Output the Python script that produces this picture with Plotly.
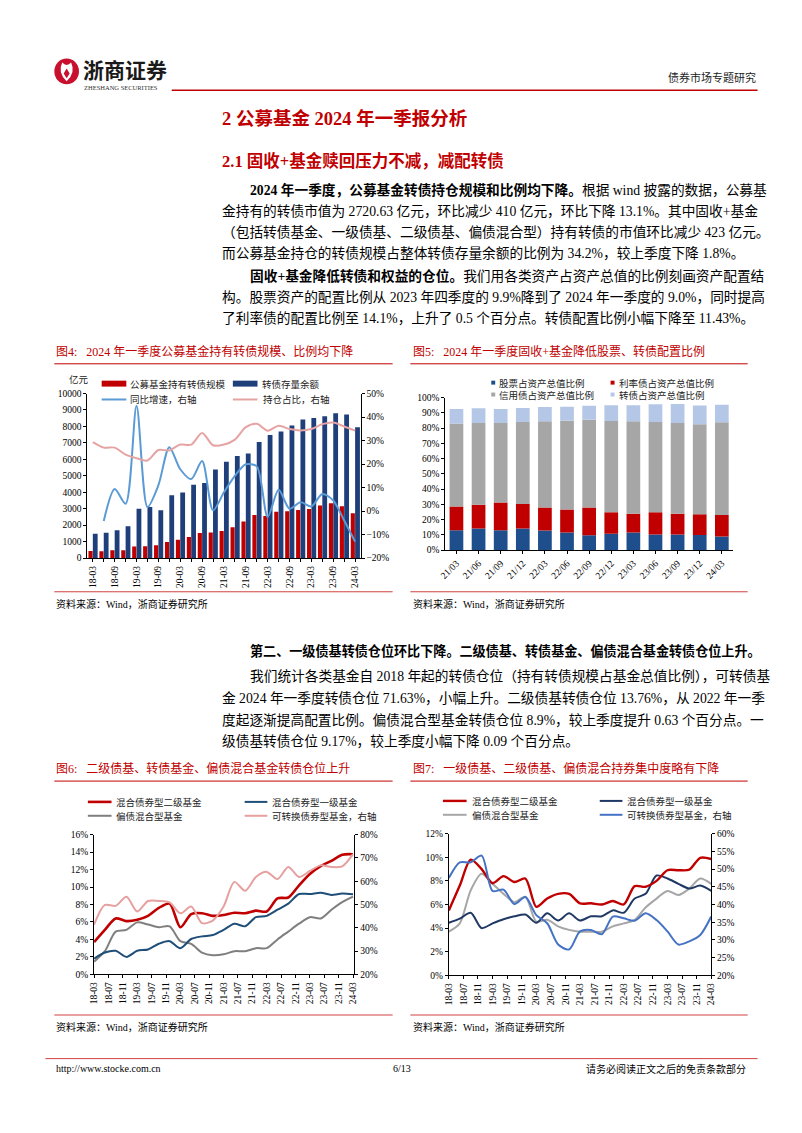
import plotly.graph_objects as go

W, H = 802, 1133
def X(p): return p / W
def Y(p): return 1 - p / H

SERIF = "Liberation Serif, Noto Sans CJK SC"
CJK = "Noto Sans CJK SC"
RED = "#C00000"

# ---------------- Fig4 data ----------------
quarters = ["18-03","18-06","18-09","18-12","19-03","19-06","19-09","19-12","20-03","20-06","20-09","20-12",
            "21-03","21-06","21-09","21-12","22-03","22-06","22-09","22-12","23-03","23-06","23-09","23-12","24-03"]
fund_cb_hold = [430,420,470,470,700,720,780,980,1120,1280,1530,1560,1650,1870,2230,2620,2560,2820,2850,2920,2980,3200,3330,3150,2720]
cb_outstanding = [1480,1540,1690,1930,3000,3100,2900,3820,3980,4450,4560,5380,5850,6200,6350,7050,7480,7700,8050,8420,8520,8620,8800,8720,7950]
yoy_growth = [None,-4.2,9.4,3.1,44.8,1.7,11.0,27.2,17.8,13.6,21.3,0.3,8.0,15.0,19.9,19.0,-2.5,9.1,1.0,3.8,2.0,7.3,4.5,-4.0,-13.0]
hold_share = [29.3,27.0,27.0,24.0,22.5,21.5,26.0,25.8,28.3,28.3,33.2,28.0,28.3,30.4,35.7,37.1,34.2,36.3,34.9,34.3,34.9,37.0,37.7,36.0,34.2]

# ---------------- Fig5 data ----------------
periods5 = ["21/03","21/06","21/09","21/12","22/03","22/06","22/09","22/12","23/03","23/06","23/09","23/12","24/03"]
stock_pct = [13.0,14.1,13.0,14.1,12.8,11.5,9.8,10.8,11.5,10.3,10.2,9.9,9.0]
rate_pct = [15.6,15.6,18.2,16.2,15.1,15.1,18.1,14.1,12.3,14.6,13.6,13.6,14.1]
credit_pct = [54.3,53.6,52.1,53.7,56.5,58.2,57.6,59.7,60.6,59.1,59.5,59.0,60.7]
cb_pct = [9.5,9.6,9.1,9.1,9.3,9.1,9.1,10.4,10.6,11.5,12.4,12.3,11.4]

# ---------------- Fig6 data ----------------
month_ticks = ["18-03","18-07","18-11","19-03","19-07","19-11","20-03","20-07","20-11","21-03",
               "21-07","21-11","22-03","22-07","22-11","23-03","23-07","23-11","24-03"]
second_tier6 = [3.7,5.1,6.4,6.1,6.25,6.7,7.6,8.1,5.4,6.9,7.0,6.7,6.8,7.05,7.0,7.3,7.2,8.7,8.8,10.2,11.5,12.4,13.0,13.7,13.76]
first_tier6 = [1.8,2.5,2.7,2.0,2.7,2.85,3.5,3.8,3.0,4.05,4.35,4.5,5.1,5.8,5.5,6.55,6.7,7.4,8.1,9.2,9.2,9.35,9.1,9.26,9.17]
hybrid6 = [1.45,2.65,4.9,5.1,5.95,5.7,5.4,5.5,3.8,3.5,2.5,2.2,2.3,2.65,2.65,3.0,3.0,4.0,4.9,5.8,6.55,6.4,7.4,8.27,8.9]
cbfund6 = [41.3,49.8,49.4,53.3,47.0,51.5,51.5,50.9,46.2,49.1,42.0,43.1,49.1,59.7,55.9,61.8,64.0,60.9,66.1,61.8,64.4,66.8,66.1,66.4,71.63]

# ---------------- Fig7 data ----------------
second_tier7 = [5.5,7.6,9.8,9.0,7.8,8.4,7.9,8.2,5.8,6.5,6.9,6.9,6.1,6.1,6.0,6.3,6.0,7.55,7.5,8.0,8.9,8.9,8.95,9.95,9.85]
first_tier7 = [4.45,4.8,5.3,4.0,4.4,4.75,5.0,5.15,4.45,5.25,4.65,5.25,4.65,5.0,5.0,5.5,5.3,6.5,6.9,8.45,8.2,7.75,7.35,7.6,7.15]
hybrid7 = [3.7,4.4,7.2,8.6,7.75,6.9,6.2,6.65,4.55,4.7,4.15,3.85,3.7,3.7,3.7,4.15,4.4,4.7,5.75,6.5,7.15,6.8,7.35,8.2,7.75]
cbfund7 = [47.5,51.9,51.9,53.8,43.8,44.2,40.1,42.1,37.0,34.7,28.7,27.3,32.4,32.8,31.6,36.6,36.1,35.4,37.5,35.6,32.4,28.7,29.6,31.4,36.6]

qidx = list(range(len(quarters)))
qmonth = [3 * i for i in qidx]

fig = go.Figure()

# Fig4 traces
fig.add_trace(go.Bar(x=qidx, y=fund_cb_hold, xaxis="x", yaxis="y", marker_color=RED,
                     width=0.38, offset=-0.4, marker_line_width=0, name="公募基金持有转债规模"))
fig.add_trace(go.Bar(x=qidx, y=cb_outstanding, xaxis="x", yaxis="y", marker_color="#1F3F7A",
                     width=0.44, offset=0.0, marker_line_width=0, name="转债存量余额"))
fig.add_trace(go.Scatter(x=qidx, y=yoy_growth, xaxis="x", yaxis="y2", mode="lines",
                         line=dict(color="#5B9BD5", width=2, shape="spline", smoothing=0.8)))
fig.add_trace(go.Scatter(x=qidx, y=hold_share, xaxis="x", yaxis="y2", mode="lines",
                         line=dict(color="#E6A3A3", width=2, shape="spline", smoothing=0.8)))

# Fig5 traces (stacked via base)
i5 = list(range(len(periods5)))
base = [0.0] * len(periods5)
for vals, col in [(stock_pct, "#1F4E8C"), (rate_pct, "#C00000"), (credit_pct, "#A6A6A6"), (cb_pct, "#B4C7E7")]:
    fig.add_trace(go.Bar(x=i5, y=vals, base=list(base), xaxis="x2", yaxis="y3", marker_color=col,
                         width=0.62, marker_line_width=0))
    base = [b + v for b, v in zip(base, vals)]

# Fig6 traces
for vals, col, wd, ax in [(hybrid6, "#7F7F7F", 2, "y4"), (first_tier6, "#1F4E79", 2, "y4"),
                          (cbfund6, "#E6A0A0", 2, "y5"), (second_tier6, "#C00000", 2.6, "y4")]:
    fig.add_trace(go.Scatter(x=qmonth, y=vals, xaxis="x3", yaxis=ax, mode="lines",
                             line=dict(color=col, width=wd, shape="spline", smoothing=0.8)))

# Fig7 traces
for vals, col, wd, ax in [(hybrid7, "#A6A6A6", 2, "y6"), (cbfund7, "#4472C4", 2, "y7"),
                          (first_tier7, "#1F3864", 2, "y6"), (second_tier7, "#C00000", 2.4, "y6")]:
    fig.add_trace(go.Scatter(x=qmonth, y=vals, xaxis="x4", yaxis=ax, mode="lines",
                             line=dict(color=col, width=wd, shape="spline", smoothing=0.8)))

tickfont = dict(family="Liberation Serif", size=9.5, color="#000")
axbase = dict(showgrid=False, zeroline=False, showline=True, linecolor="#000", linewidth=1,
              ticks="outside", ticklen=3, tickcolor="#000", tickfont=tickfont)

layout = dict(
    width=W, height=H, margin=dict(l=0, r=0, t=0, b=0),
    paper_bgcolor="white", plot_bgcolor="white", showlegend=False, barmode="overlay",
    xaxis=dict(axbase, domain=[X(82.5), X(359.5)], anchor="y", range=[-0.5, 24.5],
               tickvals=qidx, ticktext=[q if i % 2 == 0 else "" for i, q in enumerate(quarters)],
               tickangle=-90),
    yaxis=dict(axbase, domain=[Y(558), Y(392)], anchor="x", range=[0, 10000], dtick=1000,
               tickformat="d"),
    yaxis2=dict(axbase, overlaying="y", side="right", anchor="x", range=[-20, 50], dtick=10,
                ticksuffix="%"),
    xaxis2=dict(axbase, domain=[X(445.5), X(737)], anchor="y3", range=[-0.5, 12.5],
                tickvals=i5, ticktext=periods5, tickangle=-45),
    yaxis3=dict(axbase, domain=[Y(550), Y(396)], anchor="x2", range=[0, 100], dtick=10,
                ticksuffix="%"),
    xaxis3=dict(axbase, domain=[X(89.3), X(353.3)], anchor="y4", range=[0, 72.4],
                tickvals=list(range(0, 73, 4)), ticktext=month_ticks, tickangle=-90),
    yaxis4=dict(axbase, domain=[Y(978), Y(837)], anchor="x3", range=[0, 16], dtick=2,
                ticksuffix="%"),
    yaxis5=dict(axbase, overlaying="y4", side="right", anchor="x3", range=[20, 80], dtick=10,
                ticksuffix="%"),
    xaxis4=dict(axbase, domain=[X(449), X(715)], anchor="y6", range=[0, 72],
                tickvals=list(range(0, 73, 4)), ticktext=month_ticks, tickangle=-90),
    yaxis6=dict(axbase, domain=[Y(979), Y(836)], anchor="x4", range=[0, 12], dtick=2,
                ticksuffix="%"),
    yaxis7=dict(axbase, overlaying="y6", side="right", anchor="x4", range=[20, 60], dtick=5,
                ticksuffix="%"),
)
fig.update_layout(**layout)

ann = []
shapes = []

def txt(x, y, s, size=13.7, color="#000", family=SERIF, anchor="left"):
    ann.append(dict(x=X(x), y=Y(y), xref="paper", yref="paper", text=s, showarrow=False,
                    xanchor=anchor, yanchor="middle", font=dict(size=size, color=color, family=family)))

def hline(x0, x1, y, color=RED, width=1):
    shapes.append(dict(type="line", xref="paper", yref="paper", x0=X(x0), x1=X(x1), y0=Y(y), y1=Y(y),
                       line=dict(color=color, width=width)))

def rect(x0, x1, y0, y1, color):
    shapes.append(dict(type="rect", xref="paper", yref="paper", x0=X(x0), x1=X(x1), y0=Y(y1), y1=Y(y0),
                       fillcolor=color, line=dict(width=0)))

# ---- header ----
shapes.append(dict(type="circle", xref="paper", yref="paper", x0=X(49), x1=X(74), y0=Y(80), y1=Y(54),
                   fillcolor="#C8102E", line=dict(width=0)))
shapes.append(dict(type="path", xref="paper", yref="paper",
                   path=f"M {X(57)},{Y(58)} Q {X(52)},{Y(68)} {X(61.5)},{Y(77)} Q {X(71)},{Y(68)} {X(66)},{Y(58)} Q {X(61.5)},{Y(63)} {X(57)},{Y(58)} Z",
                   fillcolor="white", line=dict(width=0)))
shapes.append(dict(type="path", xref="paper", yref="paper",
                   path=f"M {X(61.5)},{Y(64)} L {X(64.5)},{Y(69)} L {X(61.5)},{Y(74)} L {X(58.5)},{Y(69)} Z",
                   fillcolor="#C8102E", line=dict(width=0)))
txt(76, 65, "<b>浙商证券</b>", size=21, color="#1a1a1a", family=CJK)
txt(77, 83, "ZHESHANG SECURITIES", size=6.5, color="#333", family="Liberation Serif")
hline(168, 762, 86, color="#C00000", width=1.5)
txt(762, 73, "债券市场专题研究", size=11, color="#222", family=CJK, anchor="right")

# ---- section titles ----
txt(217, 115, "<b>2 公募基金 2024 年一季报分析</b>", size=18.5, color=RED)
txt(217, 157, "<b>2.1 固收+基金赎回压力不减，减配转债</b>", size=16.5, color=RED)

# ---- paragraph 1 ----
txt(245, 187, "<b>2024 年一季度，公募基金转债持仓规模和比例均下降。</b>根据 wind 披露的数据，公募基")
txt(217, 208, "金持有的转债市值为 2720.63 亿元，环比减少 410 亿元，环比下降 13.1%。其中固收+基金")
txt(217, 229, "（包括转债基金、一级债基、二级债基、偏债混合型）持有转债的市值环比减少 423 亿元。")
txt(217, 250, "而公募基金持仓的转债规模占整体转债存量余额的比例为 34.2%，较上季度下降 1.8%。")
# ---- paragraph 2 ----
txt(245, 273, "<b>固收+基金降低转债和权益的仓位。</b>我们用各类资产占资产总值的比例刻画资产配置结")
txt(217, 295, "构。股票资产的配置比例从 2023 年四季度的 9.9%降到了 2024 年一季度的 9.0%，同时提高")
txt(217, 316, "了利率债的配置比例至 14.1%，上升了 0.5 个百分点。转债配置比例小幅下降至 11.43%。")

# ---- fig4/5 captions ----
txt(49, 350, "图4:   2024 年一季度公募基金持有转债规模、比例均下降", size=12, color=RED)
txt(411, 350, "图5:   2024 年一季度固收+基金降低股票、转债配置比例", size=12, color=RED)
hline(49, 392, 362)
hline(410, 752, 362)
hline(49, 392, 592, color="#D04040")
hline(410, 752, 592, color="#D04040")
txt(49, 604, "资料来源：Wind，浙商证券研究所", size=10, color="#000")
txt(411, 604, "资料来源：Wind，浙商证券研究所", size=10, color="#000")

# fig4 legend
LG = dict(size=9.5, color="#222", family=CJK)
txt(74, 377, "亿元", anchor="center", **LG)
rect(97, 122, 379, 385, RED)
txt(124, 382, "公募基金持有转债规模", **LG)
rect(230, 255, 379, 385, "#1F3F7A")
txt(258, 382, "转债存量余额", **LG)
hline(97, 122, 398, color="#5B9BD5", width=2)
txt(124, 398, "同比增速，右轴", **LG)
hline(230, 255, 398, color="#E6A3A3", width=2)
txt(259, 398, "持仓占比，右轴", **LG)

# fig5 legend
for (mx, my, col, lab) in [(494, 381, "#1F4E8C", "股票占资产总值比例"), (615, 381, "#C00000", "利率债占资产总值比例"),
                           (494, 393, "#A6A6A6", "信用债占资产总值比例"), (615, 393, "#B4C7E7", "转债占资产总值比例")]:
    rect(mx - 2, mx + 2, my - 2, my + 2, col)
    txt(mx + 4, my, lab, **LG)

# ---- paragraph 3 ----
txt(245, 652, "<b>第二、一级债基转债仓位环比下降。二级债基、转债基金、偏债混合基金转债仓位上升。</b>", size=13.1)
txt(245, 677, "我们统计各类基金自 2018 年起的转债仓位（持有转债规模占基金总值比例），可转债基")
txt(217, 699, "金 2024 年一季度转债仓位 71.63%，小幅上升。二级债基转债仓位 13.76%，从 2022 年一季")
txt(217, 721, "度起逐渐提高配置比例。偏债混合型基金转债仓位 8.9%，较上季度提升 0.63 个百分点。一")
txt(217, 743, "级债基转债仓位 9.17%，较上季度小幅下降 0.09 个百分点。")

# ---- fig6/7 captions ----
txt(49, 770, "图6:   二级债基、转债基金、偏债混合基金转债仓位上升", size=12, color=RED)
txt(411, 770, "图7:   一级债基、二级债基、偏债混合持券集中度略有下降", size=12, color=RED)
hline(49, 392, 783)
hline(410, 752, 783)
hline(49, 392, 1019, color="#D04040")
hline(410, 752, 1019, color="#D04040")
txt(49, 1031, "资料来源：Wind，浙商证券研究所", size=10, color="#000")
txt(411, 1031, "资料来源：Wind，浙商证券研究所", size=10, color="#000")

# fig6 legend
hline(83, 107, 804, color="#C00000", width=2.6)
txt(110, 804, "混合债券型二级基金", **LG)
hline(242, 265, 804, color="#1F4E79", width=2)
txt(268, 804, "混合债券型一级基金", **LG)
hline(83, 107, 818, color="#7F7F7F", width=2)
txt(110, 818, "偏债混合型基金", **LG)
hline(242, 265, 818, color="#E6A0A0", width=2)
txt(268, 818, "可转换债券型基金，右轴", **LG)

# fig7 legend
hline(443, 467, 803, color="#C00000", width=2.4)
txt(470, 803, "混合债券型二级基金", **LG)
hline(602, 625, 803, color="#1F3864", width=2)
txt(628, 803, "混合债券型一级基金", **LG)
hline(443, 467, 817, color="#A6A6A6", width=2)
txt(470, 817, "偏债混合型基金", **LG)
hline(602, 625, 817, color="#4472C4", width=2)
txt(628, 817, "可转换债券型基金，右轴", **LG)

# ---- footer ----
hline(40, 762, 1063, color="#D04040", width=1)
txt(49, 1073, "http://www.stocke.com.cn", size=10, color="#000", family="Liberation Serif")
txt(402, 1073, "6/13", size=10, color="#000", family="Liberation Serif", anchor="center")
txt(752, 1073, "请务必阅读正文之后的免责条款部分", size=10, color="#000", family=CJK, anchor="right")

fig.update_layout(annotations=ann, shapes=shapes)
fig.write_html("out.html", config={"displayModeBar": False},
               post_script="document.body.style.margin='0px';")
